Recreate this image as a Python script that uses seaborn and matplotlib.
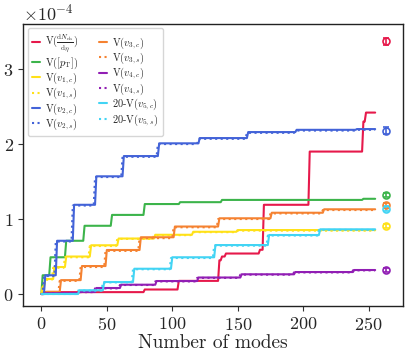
import numpy as np
import pandas as pd
import matplotlib
matplotlib.use("Agg")
import matplotlib.pyplot as plt
import seaborn as sns
from matplotlib.ticker import MultipleLocator

# ---------------- data (values in units of 1e-4) ----------------
n_modes = 256
scale = 1e-4

red_x = [0, 2, 79, 105, 136, 138, 141, 167, 170, 205, 246, 248]
red_y = [0, 0.025, 0.06, 0.175, 0.45, 0.50, 0.54, 0.59, 1.19, 1.90, 2.30, 2.42]

green_x = [0, 1, 7, 19, 33, 54, 79, 106, 138, 246]
green_y = [0, 0.25, 0.49, 0.71, 0.91, 1.055, 1.20, 1.225, 1.255, 1.27]

y1c_x = [0, 1, 3, 10, 19, 38, 59, 87, 116, 150]
y1c_y = [0, 0.10, 0.20, 0.36, 0.50, 0.65, 0.74, 0.79, 0.83, 0.853]
y1s_x = [0, 1, 3, 9, 18, 37, 58, 86, 115, 149]
y1s_y = [0, 0.09, 0.19, 0.35, 0.49, 0.64, 0.735, 0.785, 0.825, 0.845]

b2c_x = [0, 3, 12, 25, 42, 63, 90, 121, 158, 195, 241]
b2c_y = [0, 0.25, 0.71, 1.19, 1.57, 1.84, 2.01, 2.08, 2.16, 2.19, 2.20]
b2s_x = [0, 2, 11, 24, 41, 62, 89, 120, 157, 194, 240]
b2s_y = [0, 0.24, 0.70, 1.18, 1.56, 1.83, 2.00, 2.07, 2.15, 2.18, 2.19]

o3c_x = [0, 4, 15, 31, 50, 76, 102, 136, 176, 216]
o3c_y = [0, 0.03, 0.185, 0.373, 0.587, 0.757, 0.90, 1.01, 1.084, 1.13]
o3s_x = [0, 4, 14, 30, 49, 75, 101, 135, 175, 215]
o3s_y = [0, 0.025, 0.175, 0.36, 0.575, 0.745, 0.89, 1.00, 1.075, 1.12]

p4c_x = [0, 3, 29, 42, 61, 88, 120, 153, 194, 239]
p4c_y = [0, 0.01, 0.027, 0.08, 0.124, 0.173, 0.22, 0.263, 0.293, 0.32]
p4s_x = [0, 3, 28, 41, 60, 87, 119, 152, 193, 238]
p4s_y = [0, 0.01, 0.025, 0.075, 0.12, 0.168, 0.215, 0.258, 0.288, 0.315]

c5c_x = [0, 29, 48, 71, 100, 133, 174, 213]
c5c_y = [0, 0.05, 0.16, 0.337, 0.49, 0.653, 0.787, 0.863]
c5s_x = [0, 28, 47, 70, 99, 132, 173, 212]
c5s_y = [0, 0.045, 0.155, 0.33, 0.48, 0.645, 0.78, 0.855]

# final estimates (error-bar points)
est_x = 263
est_vals = [3.37, 2.18, 1.32, 1.19, 1.14, 0.907, 0.32]
est_errs = [0.05, 0.05, 0.03, 0.03, 0.03, 0.03, 0.03]

labels = [r"V($\frac{\mathrm{d}N_{\mathrm{ch}}}{\mathrm{d}\eta}$)",
          r"V($[p_{\mathrm{T}}]$)",
          r"V($v_{1,c}$)", r"V($v_{1,s}$)",
          r"V($v_{2,c}$)", r"V($v_{2,s}$)",
          r"V($v_{3,c}$)", r"V($v_{3,s}$)",
          r"V($v_{4,c}$)", r"V($v_{4,s}$)",
          r"20-V($v_{5,c}$)", r"20-V($v_{5,s}$)"]

C_RED, C_GREEN, C_YEL, C_BLUE = "#e6194b", "#3cb44b", "#ffe119", "#4363d8"
C_ORA, C_PUR, C_CYA = "#f58231", "#911eb4", "#42d4f4"

series = [
    (red_x, red_y, C_RED, "-"),
    (green_x, green_y, C_GREEN, "-"),
    (y1c_x, y1c_y, C_YEL, "-"),
    (y1s_x, y1s_y, C_YEL, ":"),
    (b2c_x, b2c_y, C_BLUE, "-"),
    (b2s_x, b2s_y, C_BLUE, ":"),
    (o3c_x, o3c_y, C_ORA, "-"),
    (o3s_x, o3s_y, C_ORA, ":"),
    (p4c_x, p4c_y, C_PUR, "-"),
    (p4s_x, p4s_y, C_PUR, ":"),
    (c5c_x, c5c_y, C_CYA, "-"),
    (c5s_x, c5s_y, C_CYA, ":"),
]
est_colors = [C_RED, C_BLUE, C_GREEN, C_ORA, C_CYA, C_YEL, C_PUR]

# ---------------- style ----------------
sns.set_style("ticks")
plt.rcParams["font.family"] = "serif"
plt.rcParams["font.serif"] = ["cmr10"]
plt.rcParams["mathtext.fontset"] = "cm"
plt.rcParams["axes.formatter.use_mathtext"] = True
plt.rcParams["axes.unicode_minus"] = True

fig = plt.figure(figsize=(4.11, 3.6), dpi=100)
ax = fig.add_axes([0.057, 0.15, 0.924, 0.783])

modes = np.arange(n_modes)
for (sx, sy, col, ls), lab in zip(series, labels):
    idx = np.searchsorted(np.array(sx), modes, side="right") - 1
    vals = np.array(sy)[idx] * scale
    df = pd.DataFrame({"mode": modes, "val": vals})
    sns.lineplot(data=df, x="mode", y="val", color=col, linestyle=ls,
                 linewidth=1.5, ax=ax, label=lab)

for v, e, c in zip(est_vals, est_errs, est_colors):
    ax.errorbar([est_x], [v * scale], yerr=[e * scale], fmt="o", mfc="none",
                mec=c, ecolor=c, ms=5, mew=1.2, capsize=2, elinewidth=1.2)

ax.set_xlim(-13.7, 276.4)
ax.set_ylim(-0.16 * scale, 3.6 * scale)
ax.yaxis.set_major_locator(MultipleLocator(1e-4))
ax.xaxis.set_major_locator(MultipleLocator(50))
ax.ticklabel_format(style="sci", axis="y", scilimits=(0, 0), useMathText=True)
ax.tick_params(labelsize=13, length=3.5, width=0.8, color="#333333")
ax.yaxis.get_offset_text().set_fontsize(13)
ax.set_xlabel("Number of modes", fontsize=14, labelpad=1)
ax.set_ylabel("")
for sp in ax.spines.values():
    sp.set_color("#222222")
    sp.set_linewidth(1.0)

ax.legend(loc="upper left", ncol=2, fontsize=7.4, handlelength=0.8,
          handletextpad=0.5, columnspacing=2.0, labelspacing=0.0,
          borderpad=0.4, borderaxespad=0.4, frameon=True)

fig.savefig("out.png", dpi=100)
